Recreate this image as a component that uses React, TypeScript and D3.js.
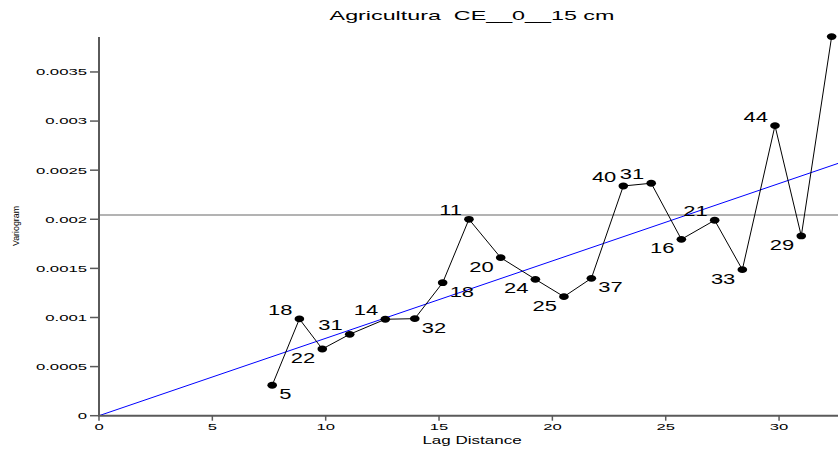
import React from "react";
import * as d3 from "d3";

const lagDistance = [7.64, 8.84, 9.85, 11.06, 12.63, 13.93, 15.16, 16.32, 17.72, 19.25, 20.51, 21.72, 23.13, 24.36, 25.69, 27.16, 28.38, 29.82, 30.98, 32.32];
const variogram = [0.00031, 0.000985, 0.000679, 0.000829, 0.000982, 0.000988, 0.001354, 0.002, 0.001609, 0.001389, 0.001212, 0.001399, 0.002339, 0.002367, 0.001796, 0.00199, 0.001487, 0.002953, 0.00183, 0.00386];
const pairCounts = ["5", "18", "22", "31", "14", "32", "18", "11", "20", "24", "25", "37", "40", "31", "16", "21", "33", "44", "29", ""];
const labelPlacement = ["se", "nw", "sw", "nw", "nw", "se", "se", "nw", "sw", "sw", "sw", "se", "nw", "nw", "sw", "nw", "sw", "nw", "sw", ""];
const xTicks = [0, 5, 10, 15, 20, 25, 30];
const yTicks = [0, 0.0005, 0.001, 0.0015, 0.002, 0.0025, 0.003, 0.0035];
const yTickLabels = ["0", "0.0005", "0.001", "0.0015", "0.002", "0.0025", "0.003", "0.0035"];
const sill = 0.002044;
const modelSlope = 7.88e-5;
const title = "Agricultura  CE__0__15 cm";

const W = 838;
const H = 452;
const left = 99;
const right = 838;
const top = 37;
const bottom = 415.7;
const FONT = "'Liberation Sans', Arial, sans-serif";

export default function App() {
  const x = d3.scaleLinear().domain([0, 32.6]).range([left, right]);
  const y = d3.scaleLinear().domain([0, 0.003856]).range([bottom, top]);
  const pts = lagDistance.map((d, i) => [x(d), y(variogram[i])] as [number, number]);
  const line = d3.line()(pts) || "";
  const xEnd = x.domain()[1];
  const axisColor = "#5a5a5a";
  return (
    <div style={{ position: "absolute", left: 0, top: 0 }}>
      <svg width={W} height={H} style={{ display: "block", background: "#fff" }}>
        {/* title */}
        <g transform={`translate(472,20) scale(1.85,1)`}>
          <text textAnchor="middle" fontFamily={FONT} fontSize={12.6} fill="#000" style={{ whiteSpace: "pre" }}>{title}</text>
        </g>
        {/* sill line */}
        <line x1={left} x2={right} y1={y(sill)} y2={y(sill)} stroke="#9a9a9a" strokeWidth={1.6} />
        {/* model line */}
        <line x1={x(0)} y1={y(0)} x2={x(xEnd)} y2={y(modelSlope * xEnd)} stroke="#0000ff" strokeWidth={1} />
        {/* experimental variogram */}
        <path d={line} fill="none" stroke="#000" strokeWidth={1} />
        {pts.map((p, i) => (
          <ellipse key={"p" + i} cx={p[0]} cy={p[1]} rx={4.8} ry={3.4} fill="#000" />
        ))}
        {pts.map((p, i) => {
          const pl = labelPlacement[i];
          if (!pl) return null;
          const east = pl[1] === "e";
          const south = pl[0] === "s";
          const tx = p[0] + (east ? 7 : -7);
          const ty = p[1] + (south ? 14 : -4);
          return (
            <g key={"l" + i} transform={`translate(${tx},${ty}) scale(1.57,1)`}>
              <text textAnchor={east ? "start" : "end"} fontFamily={FONT} fontSize={14} fill="#000">{pairCounts[i]}</text>
            </g>
          );
        })}
        {/* axes */}
        <line x1={left} x2={left} y1={top} y2={bottom} stroke={axisColor} strokeWidth={2} />
        <line x1={left - 1} x2={right} y1={bottom} y2={bottom} stroke={axisColor} strokeWidth={2} />
        {yTicks.map((t, i) => (
          <g key={"yt" + i}>
            <line x1={left - 9} x2={left} y1={y(t)} y2={y(t)} stroke={axisColor} strokeWidth={1.5} />
            <g transform={`translate(${left - 12},${y(t) + 3.4}) scale(1.76,1)`}>
              <text textAnchor="end" fontFamily={FONT} fontSize={9.5} fill="#000">{yTickLabels[i]}</text>
            </g>
          </g>
        ))}
        {xTicks.map((t, i) => (
          <g key={"xt" + i}>
            <line x1={x(t)} x2={x(t)} y1={bottom} y2={bottom + 5} stroke={axisColor} strokeWidth={1.5} />
            <g transform={`translate(${x(t)},430) scale(1.75,1)`}>
              <text textAnchor="middle" fontFamily={FONT} fontSize={9.5} fill="#000">{String(t)}</text>
            </g>
          </g>
        ))}
        <g transform={`translate(472,444) scale(1.7,1)`}>
          <text textAnchor="middle" fontFamily={FONT} fontSize={10} fill="#000">Lag Distance</text>
        </g>
        <g transform={`translate(19,226) rotate(-90) scale(0.92,1)`}>
          <text textAnchor="middle" fontFamily={FONT} fontSize={9.6} fill="#000">Variogram</text>
        </g>
      </svg>
    </div>
  );
}
